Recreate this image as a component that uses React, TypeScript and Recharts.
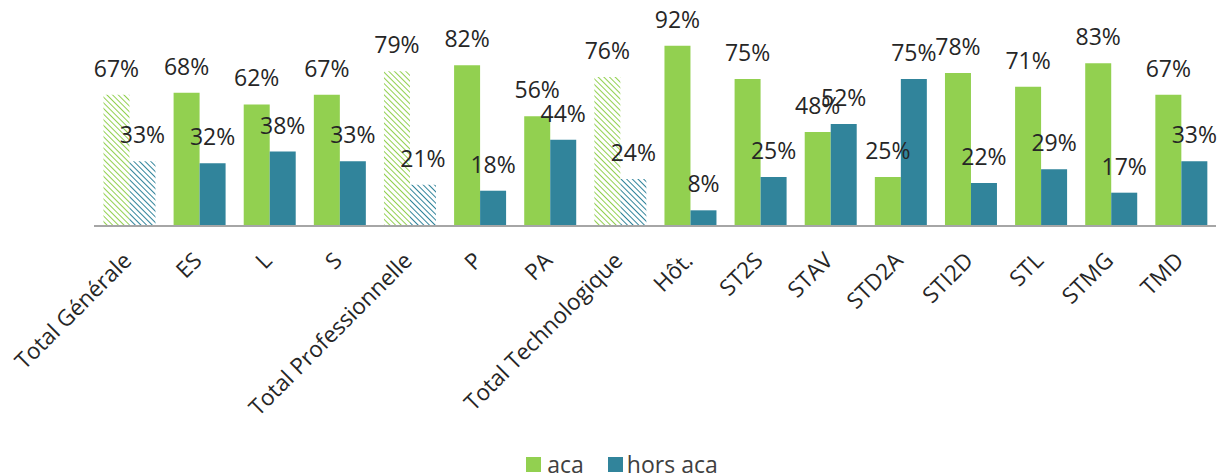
import React from "react";
import { BarChart, Bar, XAxis, YAxis, Legend, LabelList, Cell } from "recharts";

const categories = [
  "Total Générale",
  "ES",
  "L",
  "S",
  "Total Professionnelle",
  "P",
  "PA",
  "Total Technologique",
  "Hôt.",
  "ST2S",
  "STAV",
  "STD2A",
  "STI2D",
  "STL",
  "STMG",
  "TMD",
];
const aca = [67, 68, 62, 67, 79, 82, 56, 76, 92, 75, 48, 25, 78, 71, 83, 67];
const horsAca = [33, 32, 38, 33, 21, 18, 44, 24, 8, 25, 52, 75, 22, 29, 17, 33];
const totals = ["Total Générale", "Total Professionnelle", "Total Technologique"];

const GREEN = "#92D050";
const BLUE = "#31849B";
const FONT = "'Open Sans', sans-serif";
const TEXT = "#262626";

const data = categories.map((c, i) => ({ name: c, aca: aca[i], hors: horsAca[i] }));

const Tick = (props: any) => {
  const { x, y, payload } = props;
  return (
    <g transform={`translate(${x + 4},${y + 28})`}>
      <text
        x={0}
        y={0}
        textAnchor="end"
        transform="rotate(-45)"
        fontSize={22.5}
        fontFamily={FONT}
        fill={TEXT}
      >
        {payload.value}
      </text>
    </g>
  );
};

const Label = (props: any) => {
  const { x, y, width, value } = props;
  return (
    <text
      x={x + width / 2}
      y={y - 18}
      textAnchor="middle"
      fontSize={23}
      fontFamily={FONT}
      fill={TEXT}
    >
      {value}%
    </text>
  );
};

const LegendBox = () => (
  <div
    style={{
      display: "flex",
      justifyContent: "center",
      alignItems: "center",
      fontFamily: FONT,
      fontSize: 23,
      lineHeight: "26px",
      color: "#404040",
      paddingRight: 66,
      paddingTop: 6,
    }}
  >
    <span style={{ display: "inline-block", width: 15, height: 15, background: GREEN, marginRight: 6 }} />
    <span style={{ marginRight: 24 }}>aca</span>
    <span style={{ display: "inline-block", width: 15, height: 15, background: BLUE, marginRight: 4 }} />
    <span>hors aca</span>
  </div>
);

export default function App() {
  return (
    <div style={{ position: "absolute", left: 0, top: 0, background: "#fff" }}>
      <BarChart
        width={1219}
        height={475}
        data={data}
        margin={{ top: 30, right: 3, left: 94, bottom: 0 }}
        barCategoryGap="13.5%"
        barGap={0}
      >
        <defs>
          <pattern id="hatchGreen" patternUnits="userSpaceOnUse" width="4" height="4" patternTransform="rotate(-45)">
            <rect width="4" height="4" fill="#fff" />
            <line x1="0" y1="0" x2="0" y2="4" stroke={GREEN} strokeWidth="2" />
          </pattern>
          <pattern id="hatchBlue" patternUnits="userSpaceOnUse" width="4" height="4" patternTransform="rotate(-45)">
            <rect width="4" height="4" fill="#fff" />
            <line x1="0" y1="0" x2="0" y2="4" stroke={BLUE} strokeWidth="2" />
          </pattern>
        </defs>
        <XAxis
          dataKey="name"
          interval={0}
          height={219}
          tick={<Tick />}
          tickLine={false}
          axisLine={{ stroke: "#A6A6A6", strokeWidth: 2 }}
        />
        <YAxis hide domain={[0, 100]} />
        <Legend verticalAlign="bottom" height={30} content={<LegendBox />} />
        <Bar dataKey="aca" name="aca" fill={GREEN} isAnimationActive={false}>
          {data.map((d) => (
            <Cell key={d.name} fill={totals.includes(d.name) ? "url(#hatchGreen)" : GREEN} />
          ))}
          <LabelList dataKey="aca" content={<Label />} />
        </Bar>
        <Bar dataKey="hors" name="hors aca" fill={BLUE} isAnimationActive={false}>
          {data.map((d) => (
            <Cell key={d.name} fill={totals.includes(d.name) ? "url(#hatchBlue)" : BLUE} />
          ))}
          <LabelList dataKey="hors" content={<Label />} />
        </Bar>
      </BarChart>
    </div>
  );
}
